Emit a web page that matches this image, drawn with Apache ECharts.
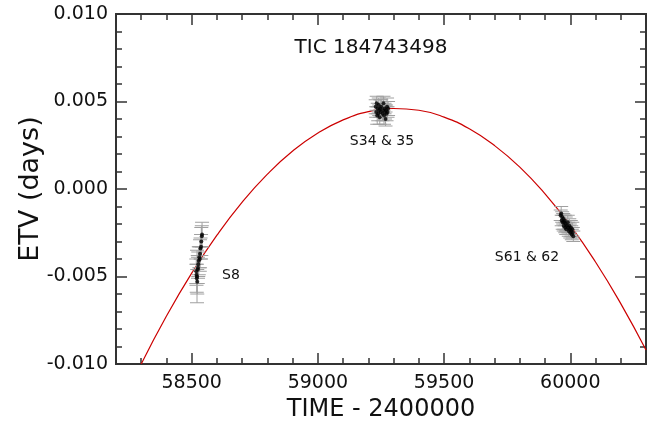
<!DOCTYPE html>
<html>
<head>
<meta charset="utf-8">
<script src="https://cdn.jsdelivr.net/npm/echarts@6/dist/echarts.min.js"></script>
<style>
  html, body { margin: 0; padding: 0; background: #ffffff; }
  #chart { width: 651px; height: 425px; }
</style>
</head>
<body>
<div id="chart"></div>
<script>
// Eclipse timing variations (days) for TIC 184743498, three TESS epochs
const s8Time = [58518, 58519, 58520, 58521, 58522, 58524, 58525, 58526, 58528, 58530, 58532, 58533, 58535, 58537, 58538, 58540, 58541];
const s8Etv  = [-0.0047, -0.0049, -0.0051, -0.0050, -0.0053, -0.0046, -0.0045, -0.0043, -0.0041, -0.0039, -0.0040, -0.0037, -0.0034, -0.0033, -0.0030, -0.0027, -0.0026];
const s8Err  = [0.0007, 0.0006, 0.0008, 0.0015, 0.0007, 0.0008, 0.0006, 0.0007, 0.0008, 0.0006, 0.0007, 0.0008, 0.0006, 0.0007, 0.0008, 0.0006, 0.0007];

const s34Time = [59229, 59231, 59233, 59235, 59237, 59239, 59241, 59243, 59245, 59247, 59249, 59251, 59256, 59258, 59260, 59262, 59264, 59266, 59268, 59270, 59272, 59274, 59276, 59278];
const s34Etv  = [0.0047, 0.0044, 0.0049, 0.0042, 0.0046, 0.0043, 0.0048, 0.0045, 0.0041, 0.0046, 0.0044, 0.0047, 0.0043, 0.0045, 0.0049, 0.0042, 0.0046, 0.0044, 0.0040, 0.0045, 0.0043, 0.0047, 0.0044, 0.0046];
const s34Err  = [0.0004, 0.0003, 0.0004, 0.0005, 0.0003, 0.0004, 0.0004, 0.0003, 0.0004, 0.0005, 0.0003, 0.0004, 0.0004, 0.0003, 0.0004, 0.0005, 0.0003, 0.0004, 0.0004, 0.0003, 0.0004, 0.0005, 0.0003, 0.0004];

const s61Time = [59962, 59964, 59966, 59968, 59970, 59972, 59974, 59976, 59978, 59980, 59982, 59984, 59986, 59990, 59992, 59994, 59996, 59998, 60000, 60002, 60004, 60006, 60008, 60010, 60012];
const s61Etv  = [-0.0015, -0.0014, -0.0018, -0.0016, -0.0019, -0.0017, -0.0021, -0.0019, -0.0018, -0.0022, -0.0020, -0.0023, -0.0021, -0.0019, -0.0022, -0.0024, -0.0021, -0.0023, -0.0025, -0.0022, -0.0024, -0.0026, -0.0023, -0.0025, -0.0027];
const s61Err  = [0.0003, 0.0004, 0.0003, 0.0003, 0.0004, 0.0003, 0.0003, 0.0004, 0.0003, 0.0003, 0.0004, 0.0003, 0.0003, 0.0004, 0.0003, 0.0003, 0.0004, 0.0003, 0.0003, 0.0004, 0.0003, 0.0003, 0.0004, 0.0003, 0.0003];

// Quadratic (light-travel-time) model curve
const fitTime = [58300, 58400, 58500, 58600, 58700, 58800, 58900, 59000, 59100, 59200, 59300, 59400, 59500, 59600, 59700, 59800, 59900, 60000, 60100, 60200, 60300];
const fitEtv  = [-0.0100, -0.00726, -0.00481, -0.00264, -0.00075, 0.00085, 0.00217, 0.00320, 0.00395, 0.00442, 0.00460, 0.00450, 0.00411, 0.00344, 0.00248, 0.00125, -0.00028, -0.00208, -0.00417, -0.00655, -0.00920];

const xMajorTicks = [58500, 59000, 59500, 60000];

const points = [];
const errs = [];
[[s8Time, s8Etv, s8Err], [s34Time, s34Etv, s34Err], [s61Time, s61Etv, s61Err]].forEach(([t, v, e]) => {
  t.forEach((x, i) => {
    points.push([x, v[i]]);
    errs.push([x, v[i] - e[i], v[i] + e[i]]);
  });
});
const fitLine = fitTime.map((x, i) => [x, fitEtv[i]]);

const FONT = 'DejaVu Sans';
const AXIS_COLOR = '#333333';
const X_MIN = 58200, X_MAX = 60300;

function xAxisDef(position, major) {
  const ax = {
    type: 'value', position: position, min: X_MIN, max: X_MAX,
    axisLine: { show: true, onZero: false, lineStyle: { color: AXIS_COLOR, width: 2 } },
    splitLine: { show: false },
    axisTick: { show: true, inside: true, length: major ? 11 : 6, lineStyle: { color: AXIS_COLOR, width: 1.5 } },
    axisLabel: { show: false }
  };
  if (major) {
    ax.axisTick.customValues = xMajorTicks;
    ax.axisLabel = (position === 'bottom') ? {
      show: true, customValues: xMajorTicks, margin: 10,
      fontFamily: FONT, fontSize: 19, color: '#111',
      formatter: v => String(v)
    } : { show: false };
  } else {
    ax.interval = 100;
  }
  return ax;
}

function yAxisDef(position) {
  return {
    type: 'value', position: position, min: -0.010, max: 0.010, interval: 0.005,
    axisLine: { show: true, onZero: false, lineStyle: { color: AXIS_COLOR, width: 2 } },
    splitLine: { show: false },
    axisTick: { show: true, inside: true, length: 11, lineStyle: { color: AXIS_COLOR, width: 1.5 } },
    minorTick: { show: true, splitNumber: 5, length: 6, lineStyle: { color: AXIS_COLOR, width: 1.5 } },
    axisLabel: position === 'left' ? {
      show: true, margin: 8, fontFamily: FONT, fontSize: 19, color: '#111',
      formatter: v => v.toFixed(3)
    } : { show: false }
  };
}

const chart = echarts.init(document.getElementById('chart'), null, { renderer: 'canvas' });
chart.setOption({
  animation: false,
  backgroundColor: '#ffffff',
  grid: { left: 116, right: 5, top: 14, bottom: 61, containLabel: false, outerBoundsMode: 'none' },
  xAxis: [xAxisDef('bottom', false), xAxisDef('bottom', true), xAxisDef('top', false), xAxisDef('top', true)],
  yAxis: [yAxisDef('left'), yAxisDef('right')],
  graphic: [
    { type: 'text', x: 381, y: 410, style: { text: 'TIME - 2400000', fontFamily: FONT, fontSize: 24, fill: '#111', align: 'center', verticalAlign: 'middle' } },
    { type: 'text', x: 31, y: 189, rotation: Math.PI / 2, style: { text: 'ETV (days)', fontFamily: FONT, fontSize: 27, fill: '#111', align: 'center', verticalAlign: 'middle' } },
    { type: 'text', x: 371, y: 48, style: { text: 'TIC 184743498', fontFamily: FONT, fontSize: 20, fill: '#111', align: 'center', verticalAlign: 'middle' } },
    { type: 'text', x: 382, y: 141, style: { text: 'S34 & 35', fontFamily: FONT, fontSize: 14, fill: '#111', align: 'center', verticalAlign: 'middle' } },
    { type: 'text', x: 231, y: 275, style: { text: 'S8', fontFamily: FONT, fontSize: 14, fill: '#111', align: 'center', verticalAlign: 'middle' } },
    { type: 'text', x: 527, y: 257, style: { text: 'S61 & 62', fontFamily: FONT, fontSize: 14, fill: '#111', align: 'center', verticalAlign: 'middle' } }
  ],
  series: [
    {
      type: 'line', data: fitLine, smooth: true, symbol: 'none', xAxisIndex: 0, yAxisIndex: 0,
      lineStyle: { color: '#cc0000', width: 1.2 }, z: 2
    },
    {
      type: 'custom', data: errs, xAxisIndex: 0, yAxisIndex: 0, z: 3,
      renderItem: function (params, api) {
        const x = api.value(0);
        const lo = api.coord([x, api.value(1)]);
        const hi = api.coord([x, api.value(2)]);
        const hw = 7;
        const st = { stroke: '#a0a0a0', lineWidth: 1 };
        return {
          type: 'group',
          children: [
            { type: 'line', shape: { x1: lo[0], y1: lo[1], x2: hi[0], y2: hi[1] }, style: st },
            { type: 'line', shape: { x1: lo[0] - hw, y1: lo[1], x2: lo[0] + hw, y2: lo[1] }, style: st },
            { type: 'line', shape: { x1: hi[0] - hw, y1: hi[1], x2: hi[0] + hw, y2: hi[1] }, style: st }
          ]
        };
      }
    },
    {
      type: 'scatter', data: points, xAxisIndex: 0, yAxisIndex: 0, z: 4,
      symbol: 'circle', symbolSize: 4, itemStyle: { color: '#000000' }
    }
  ]
});
</script>
</body>
</html>
